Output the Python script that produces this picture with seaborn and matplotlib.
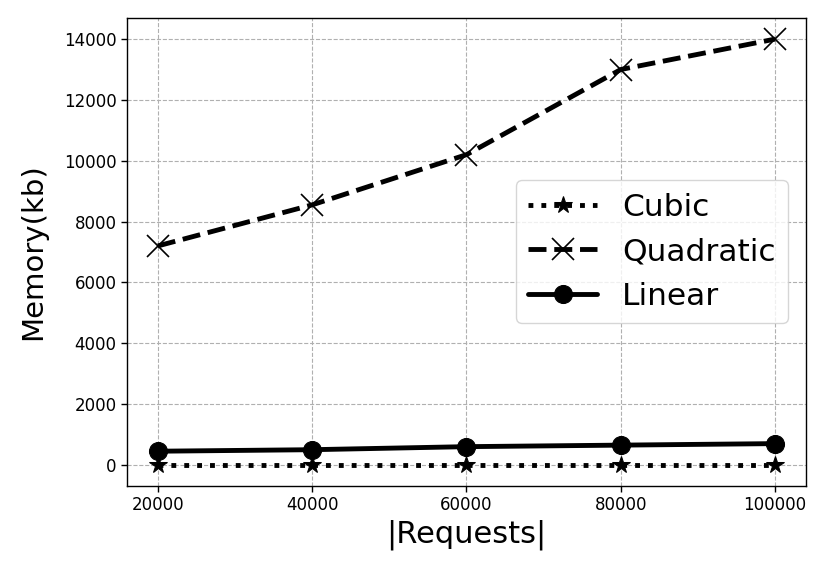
import matplotlib
matplotlib.use("Agg")
import matplotlib.pyplot as plt
import seaborn as sns
import pandas as pd

requests = [20000, 40000, 60000, 80000, 100000]
cubic = [10, 10, 10, 10, 10]
quadratic = [7200, 8550, 10200, 13000, 14000]
linear = [450, 500, 600, 650, 700]

sns.set_style("ticks", {"axes.grid": True, "grid.linestyle": "--", "grid.color": "#b0b0b0"})
plt.rcParams["font.family"] = ["DejaVu Sans"]
plt.rcParams["text.color"] = "black"
plt.rcParams["axes.labelcolor"] = "black"
plt.rcParams["xtick.color"] = "black"
plt.rcParams["ytick.color"] = "black"

df = pd.DataFrame({"Requests": requests, "Cubic": cubic,
                   "Quadratic": quadratic, "Linear": linear})

fig, ax = plt.subplots(figsize=(8.3, 5.75), dpi=100)

sns.lineplot(data=df, x="Requests", y="Cubic", ax=ax, color="black", linestyle=":",
             marker="*", markersize=13, markeredgecolor="black", linewidth=3.5, label="Cubic")
sns.lineplot(data=df, x="Requests", y="Quadratic", ax=ax, color="black", linestyle="--",
             marker="x", markersize=16, markeredgecolor="black", markeredgewidth=1.2,
             linewidth=3.5, label="Quadratic")
sns.lineplot(data=df, x="Requests", y="Linear", ax=ax, color="black", linestyle="-",
             marker="o", markersize=13, markeredgecolor="black", linewidth=3.5, label="Linear")

ax.set_xticks(requests)
ax.set_yticks(range(0, 14001, 2000))
ax.tick_params(labelsize=12, length=4, width=1, colors="black")
ax.set_xlabel("|Requests|", fontsize=22, color="black", labelpad=4)
ax.set_ylabel("Memory(kb)", fontsize=21, color="black", labelpad=12)
for s in ax.spines.values():
    s.set_color("black")
    s.set_linewidth(1)
ax.grid(True, linestyle="--", color="#b0b0b0", linewidth=0.8)

leg = ax.legend(fontsize=22.5, loc="center right", bbox_to_anchor=(0.997, 0.5),
                handlelength=2.2, framealpha=0.8)
for t in leg.get_texts():
    t.set_color("black")

fig.subplots_adjust(left=0.153, right=0.971, top=0.969, bottom=0.155)
fig.savefig("out.png", dpi=100)
